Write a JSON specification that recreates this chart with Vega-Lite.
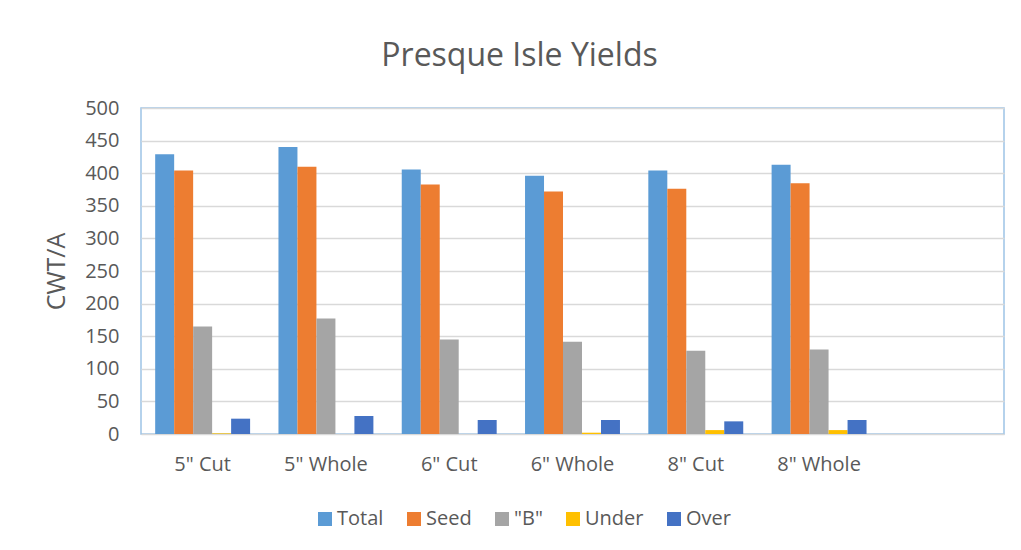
{
  "$schema": "https://vega.github.io/schema/vega-lite/v6.json",
  "width": 863,
  "height": 326,
  "autosize": {"type": "none"},
  "padding": {"left": 141, "top": 108, "right": 17, "bottom": 116},
  "background": "white",
  "title": {
    "text": "Presque Isle Yields",
    "font": "Open Sans",
    "fontSize": 32,
    "fontWeight": "normal",
    "color": "#595959",
    "anchor": "middle",
    "dx": -53,
    "offset": 25
  },
  "data": {
    "values": [
      {"size": "5\" Cut", "series": "Total", "value": 429},
      {"size": "5\" Cut", "series": "Seed", "value": 404},
      {"size": "5\" Cut", "series": "\"B\"", "value": 165},
      {"size": "5\" Cut", "series": "Under", "value": 1},
      {"size": "5\" Cut", "series": "Over", "value": 23.5},
      {"size": "5\" Whole", "series": "Total", "value": 440},
      {"size": "5\" Whole", "series": "Seed", "value": 410},
      {"size": "5\" Whole", "series": "\"B\"", "value": 177},
      {"size": "5\" Whole", "series": "Under", "value": 0},
      {"size": "5\" Whole", "series": "Over", "value": 27.7},
      {"size": "6\" Cut", "series": "Total", "value": 405.5},
      {"size": "6\" Cut", "series": "Seed", "value": 382.5},
      {"size": "6\" Cut", "series": "\"B\"", "value": 145},
      {"size": "6\" Cut", "series": "Under", "value": 0},
      {"size": "6\" Cut", "series": "Over", "value": 21.5},
      {"size": "6\" Whole", "series": "Total", "value": 396},
      {"size": "6\" Whole", "series": "Seed", "value": 372},
      {"size": "6\" Whole", "series": "\"B\"", "value": 141.5},
      {"size": "6\" Whole", "series": "Under", "value": 2},
      {"size": "6\" Whole", "series": "Over", "value": 21.5},
      {"size": "8\" Cut", "series": "Total", "value": 404},
      {"size": "8\" Cut", "series": "Seed", "value": 376},
      {"size": "8\" Cut", "series": "\"B\"", "value": 127.7},
      {"size": "8\" Cut", "series": "Under", "value": 6},
      {"size": "8\" Cut", "series": "Over", "value": 19.4},
      {"size": "8\" Whole", "series": "Total", "value": 413},
      {"size": "8\" Whole", "series": "Seed", "value": 384.6},
      {"size": "8\" Whole", "series": "\"B\"", "value": 129.7},
      {"size": "8\" Whole", "series": "Under", "value": 6},
      {"size": "8\" Whole", "series": "Over", "value": 21.5}
    ]
  },
  "mark": {"type": "bar"},
  "encoding": {
    "x": {
      "field": "size",
      "type": "nominal",
      "scale": {
        "domain": ["5\" Cut", "5\" Whole", "6\" Cut", "6\" Whole", "8\" Cut", "8\" Whole", " "],
        "paddingInner": 0.23,
        "paddingOuter": 0.115
      },
      "axis": {
        "title": null,
        "labelAngle": 0,
        "ticks": false,
        "domain": false,
        "labelFont": "Open Sans",
        "labelFontSize": 20,
        "labelColor": "#595959",
        "labelPadding": 20
      }
    },
    "xOffset": {
      "field": "series",
      "type": "nominal",
      "scale": {"domain": ["Total", "Seed", "\"B\"", "Under", "Over"], "paddingInner": 0, "paddingOuter": 0}
    },
    "y": {
      "field": "value",
      "type": "quantitative",
      "scale": {"domain": [0, 500], "nice": false},
      "axis": {
        "title": "CWT/A",
        "values": [0, 50, 100, 150, 200, 250, 300, 350, 400, 450, 500],
        "ticks": false,
        "domain": false,
        "labelFont": "Open Sans",
        "labelFontSize": 20,
        "labelColor": "#595959",
        "labelPadding": 22,
        "titleFont": "Open Sans",
        "titleFontSize": 25,
        "titleFontWeight": "normal",
        "titleColor": "#595959",
        "titlePadding": 15,
        "gridColor": "#D9D9D9",
        "gridWidth": 1.5
      }
    },
    "color": {
      "field": "series",
      "type": "nominal",
      "scale": {
        "domain": ["Total", "Seed", "\"B\"", "Under", "Over"],
        "range": ["#5B9BD5", "#ED7D31", "#A5A5A5", "#FFC000", "#4472C4"]
      },
      "legend": {
        "title": null,
        "orient": "none",
        "legendX": 174,
        "legendY": 401,
        "direction": "horizontal",
        "symbolType": "square",
        "symbolSize": 196,
        "symbolStrokeWidth": 0,
        "labelFont": "Open Sans",
        "labelFontSize": 20,
        "labelColor": "#595959",
        "labelOffset": 2,
        "columnPadding": 20
      }
    }
  },
  "config": {
    "view": {"stroke": "#9DC3E6", "strokeWidth": 1.5}
  }
}
